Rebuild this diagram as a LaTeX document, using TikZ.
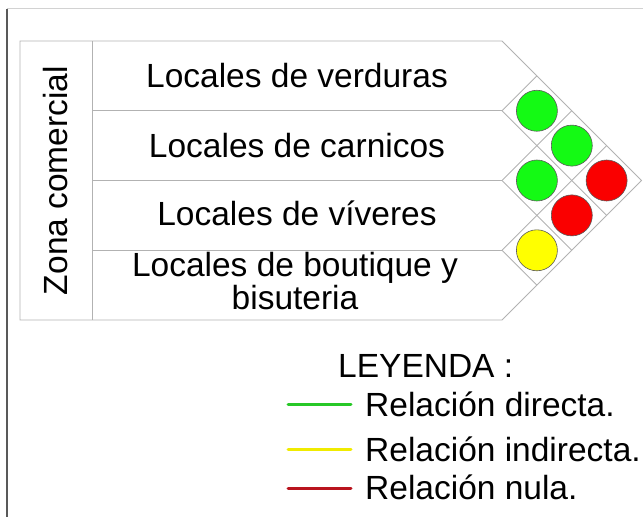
\documentclass[tikz,border=0pt]{standalone}
\usepackage{fontspec}
\setmainfont{Liberation Sans}

\definecolor{verde}{RGB}{20,250,20}
\definecolor{rojo}{RGB}{250,0,0}
\definecolor{amarillo}{RGB}{255,255,0}
\definecolor{lineaverde}{RGB}{40,200,40}
\definecolor{lineaamarilla}{RGB}{240,235,0}
\definecolor{linearoja}{RGB}{185,20,30}

\tikzset{
  rejilla/.style={draw=gray!60, line width=0.9pt},
  etiqueta/.style={inner sep=0pt, font=\fontsize{33.5}{31}\selectfont},
  circulo/.style={circle, draw=black!65, line width=0.6pt, minimum size=41pt, inner sep=0pt},
  leyenda/.style={line width=3pt, line cap=round},
}

\begin{document}
\begin{tikzpicture}[x=10pt,y=-10pt]
    \useasboundingbox (0,0) rectangle (64.3,51.7);

    % marco
    \draw[gray!35, line width=1.5pt] (0.7,0.85) -- (64.3,0.85);
    \draw[gray!70!black, line width=1.5pt] (0.7,0.85) -- (0.7,51.7);

    % tabla y matriz
    \draw[rejilla] (2,4.1) -- (50.2,4.1) -- (64.15,18.05) -- (50.2,32) -- (2,32) -- cycle;
    \draw[rejilla] (9.2,4.1) -- (9.2,32);
    \foreach \y in {11.075,18.05,25.025} {
      \draw[rejilla] (9.2,\y) -- (50.2,\y);
      \draw[rejilla] (50.2,\y) -- ++({(32-\y)/2},{(32-\y)/2});
      \draw[rejilla] (50.2,\y) -- ++({(\y-4.1)/2},{-(\y-4.1)/2});
    }

    \node[etiqueta, rotate=90, anchor=base] (zona) at (6.7,18.05) {Zona comercial};
    \node[etiqueta, anchor=base] (verduras) at (29.7,8.7) {Locales de verduras};
    \node[etiqueta, anchor=base] (carnicos) at (29.7,15.7) {Locales de carnicos};
    \node[etiqueta, anchor=base] (viveres) at (29.7,22.5) {Locales de víveres};
    \node[etiqueta, anchor=base, align=center] (boutique) at (29.5,30.9) {Locales de boutique y\\bisuteria};

    % relaciones
    \node[circulo, fill=verde] (c12) at (53.69,11.075) {};
    \node[circulo, fill=verde] (c13) at (57.18,14.56) {};
    \node[circulo, fill=verde] (c23) at (53.69,18.05) {};
    \node[circulo, fill=rojo] (c14) at (60.66,18.05) {};
    \node[circulo, fill=rojo] (c24) at (57.18,21.54) {};
    \node[circulo, fill=amarillo] (c34) at (53.69,25.03) {};

    % leyenda
    \node[etiqueta, anchor=base west] (titulo) at (33.8,37.7) {LEYENDA :};
    \node[etiqueta, anchor=base west] (directa) at (36.5,41.6) {Relación directa.};
    \node[etiqueta, anchor=base west] (indirecta) at (36.5,46.1) {Relación indirecta.};
    \node[etiqueta, anchor=base west] (nula) at (36.5,49.9) {Relación nula.};
    \draw[leyenda, lineaverde] (28.8,40.4) -- (35.1,40.4);
    \draw[leyenda, lineaamarilla] (28.8,44.9) -- (35.1,44.9);
    \draw[leyenda, linearoja] (28.8,48.8) -- (35.1,48.8);
\end{tikzpicture}
\end{document}
